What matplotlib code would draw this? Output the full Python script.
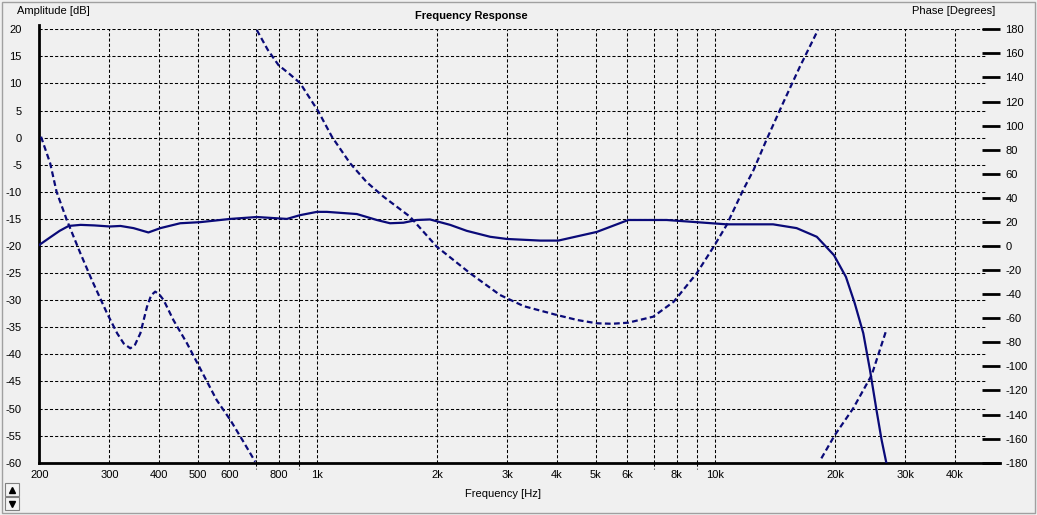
import numpy as np
import matplotlib.pyplot as plt
from matplotlib.patches import Rectangle
from matplotlib.transforms import blended_transform_factory

plt.rcParams['font.family'] = ['Liberation Sans', 'DejaVu Sans']
plt.rcParams['axes.unicode_minus'] = False

# Amplitude (solid line, left axis, dB)
amp_freq = [200, 213, 225, 237, 254, 275, 301, 320, 345, 376, 403, 452, 507,
            604, 704, 838, 905, 997, 1056, 1256, 1410, 1522, 1645, 1777, 1918,
            2155, 2372, 2717, 2991, 3631, 4030, 5035, 6040, 7540, 8974, 10670,
            13960, 16000, 17980, 19860, 21280, 22400, 23530, 24460, 25400,
            26160, 26900]
amp_db = [-19.8, -18.4, -17.2, -16.3, -16.1, -16.2, -16.4, -16.3, -16.7, -17.5,
          -16.7, -15.8, -15.6, -15.0, -14.65, -15.0, -14.3, -13.7, -13.7, -14.1,
          -15.2, -15.8, -15.7, -15.2, -15.1, -16.1, -17.2, -18.3, -18.7, -19.0,
          -19.0, -17.4, -15.2, -15.2, -15.6, -16.0, -16.0, -16.7, -18.3, -21.7,
          -25.7, -30.6, -36.1, -42.9, -50.3, -55.8, -60.1]

# Phase (dashed line, right axis, degrees) - three wrapped segments
ph1_freq = [202, 213, 221, 234.5, 253.7, 271, 296, 313.8, 326, 338.6, 348, 358.9,
            373, 382, 391, 400, 410.6, 434.5, 470, 507, 558, 604, 650, 697.6]
ph1_deg = [90.8, 68.7, 45.1, 21.6, -6.1, -28.2, -55.9, -72.5, -81, -85.0, -82,
           -72.5, -50.4, -41, -37.9, -40, -44.9, -61.5, -80.8, -101.6, -127.9,
           -144.5, -162, -179.2]
ph2_freq = [704, 750, 798, 850, 905, 1006, 1087, 1208, 1330, 1465, 1709, 1995,
            2420, 2876, 3300, 3993, 4500, 5035, 5500, 6040, 6980, 7856, 8974,
            9900, 10670, 11740, 12470, 13430, 14780, 16300, 18100]
ph2_deg = [179.4, 163, 150.3, 143, 135.2, 111.6, 90.8, 68.7, 53, 41.0, 24.3,
           -0.6, -22.7, -40.7, -50, -57.3, -61.5, -64.2, -64.6, -63.7, -58.7,
           -46.3, -22.7, -0.6, 17.4, 46.5, 63.1, 88.0, 118.5, 148.9, 179.4]
ph3_freq = [18460, 19960, 22200, 24700, 26800]
ph3_deg = [-176.4, -157, -134.8, -107.2, -71.2]

x_ticks = [200, 300, 400, 500, 600, 800, 1000, 2000, 3000, 4000, 5000, 6000,
           8000, 10000, 20000, 30000, 40000]
x_labels = ['200', '300', '400', '500', '600', '800', '1k', '2k', '3k', '4k',
            '5k', '6k', '8k', '10k', '20k', '30k', '40k']
x_unlabeled = [700, 900, 7000, 9000]
amp_ticks = list(range(-60, 25, 5))
phase_ticks = list(range(-180, 200, 20))

W, H = 1037, 515
bg = '#f0f0f0'
navy = '#0a0a78'
fs = 8

fig = plt.figure(figsize=(W / 100, H / 100), dpi=100, facecolor=bg)
ax = fig.add_axes([39.3 / W, (H - 462.7) / H, (1000 - 39.3) / W, 433.4 / H])
ax.set_facecolor(bg)
ax.set_xscale('log')
ax.set_xlim(200, 51900)
ax.set_ylim(-60, 20)

ax2 = ax.twinx()
ax2.set_ylim(-180, 180)

grid_kw = dict(color='black', lw=0.75, linestyle=(0, (3, 2)))
fmax_grid = 47900
for v in amp_ticks:
    ax.plot([200, fmax_grid], [v, v], zorder=1, **grid_kw)
for f in x_ticks + x_unlabeled:
    ax.plot([f, f], [-60, 20], zorder=1, **grid_kw)
# unlabeled grid lines poke below the axis
trans = blended_transform_factory(ax.transData, ax.transAxes)
for f in x_unlabeled:
    ax.plot([f, f], [0, -6 / 433.4], transform=trans, clip_on=False, **grid_kw)

ax.plot(amp_freq, amp_db, color=navy, lw=1.6, zorder=3)
for fr, dg in [(ph1_freq, ph1_deg), (ph2_freq, ph2_deg), (ph3_freq, ph3_deg)]:
    ax2.plot(fr, dg, color=navy, lw=1.6, linestyle=(0, (2.6, 1.5)), zorder=3)

ax.set_xticks(x_ticks)
ax.set_xticklabels(x_labels)
ax.xaxis.set_minor_locator(plt.NullLocator())
ax.set_yticks(amp_ticks)
ax.tick_params(axis='x', length=0, pad=5, labelsize=fs)
ax.tick_params(axis='y', length=0, pad=12.5, labelsize=fs)
ax2.set_yticks(phase_ticks)
ax2.tick_params(axis='y', direction='in', length=13, width=2, pad=4,
                labelsize=fs, color='black')

for a in (ax, ax2):
    a.spines['top'].set_visible(False)
    a.spines['right'].set_visible(False)
ax2.spines['left'].set_visible(False)
ax2.spines['bottom'].set_visible(False)
ax.spines['left'].set_linewidth(2)
ax.spines['bottom'].set_linewidth(2)
ax.spines['left'].set_bounds(-60, 20.8)

fig.text(17 / W, 1 - 11 / H, 'Amplitude [dB]', fontsize=fs, va='center', ha='left')
fig.text(995 / W, 1 - 11 / H, 'Phase [Degrees]', fontsize=fs, va='center', ha='right')
fig.text(471 / W, 1 - 16 / H, 'Frequency Response', fontsize=fs, fontweight='bold',
         va='center', ha='center')
fig.text(503 / W, 1 - 494 / H, 'Frequency [Hz]', fontsize=fs, va='center', ha='center')

# window frame and spinner buttons
fig.patches.append(Rectangle((2 / W, 2 / H), 1033 / W, 511 / H, transform=fig.transFigure,
                             fill=False, edgecolor='#a0a0a0', lw=1))
for y0, mk in [(483, '^'), (497, 'v')]:
    fig.patches.append(Rectangle((5 / W, 1 - (y0 + 13) / H), 14 / W, 13 / H,
                                 transform=fig.transFigure, facecolor='#f4f4f4',
                                 edgecolor='#808080', lw=0.8))
    fig.lines.append(plt.Line2D([12 / W], [1 - (y0 + 6.5) / H], transform=fig.transFigure,
                                marker=mk, color='black', markersize=5, linestyle='none'))

fig.savefig('out.png', dpi=100, facecolor=bg)
